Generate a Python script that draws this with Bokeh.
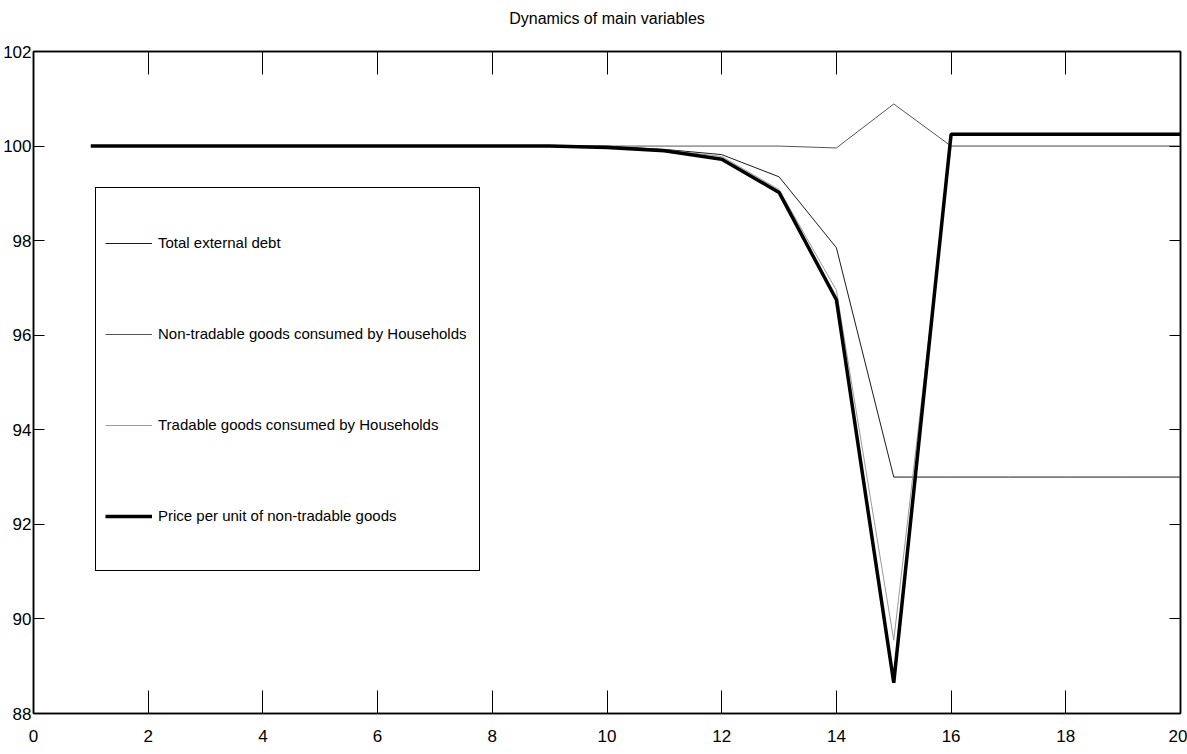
from bokeh.plotting import figure
from bokeh.models import (Range1d, FixedTicker, LinearAxis, Legend, LegendItem)
from bokeh.embed import file_html
from bokeh.resources import INLINE

# ---- data ----
periods = [1, 2, 3, 4, 5, 6, 7, 8, 9, 10, 11, 12, 13, 14, 15, 16, 17, 18, 19, 20]
total_external_debt = [100, 100, 100, 100, 100, 100, 100, 100, 100, 100,
                       99.93, 99.82, 99.35, 97.85, 93.0, 93.0, 93.0, 93.0, 93.0, 93.0]
nontradable_consumption = [100, 100, 100, 100, 100, 100, 100, 100, 100, 100,
                           100, 100, 100, 99.96, 100.89, 100, 100, 100, 100, 100]
tradable_consumption = [100, 100, 100, 100, 100, 100, 100, 100, 100, 99.97,
                        99.92, 99.78, 99.08, 96.95, 89.55, 100, 100, 100, 100, 100]
price_nontradable = [100, 100, 100, 100, 100, 100, 100, 100, 100, 99.97,
                     99.9, 99.72, 99.02, 96.75, 88.65, 100.25, 100.25, 100.25, 100.25, 100.25]
x_ticks = [0, 2, 4, 6, 8, 10, 12, 14, 16, 18, 20]
y_ticks = [88, 90, 92, 94, 96, 98, 100, 102]
title_text = "Dynamics of main variables"
labels = ["Total external debt",
          "Non-tradable goods consumed by Households",
          "Tradable goods consumed by Households",
          "Price per unit of non-tradable goods"]

FONT = "Liberation Sans"

p = figure(width=1187, height=754, output_backend="svg", toolbar_location=None,
           x_range=Range1d(0, 20), y_range=Range1d(88, 102),
           min_border_left=30, min_border_right=7, min_border_top=51, min_border_bottom=41)

p.grid.visible = False
p.outline_line_color = "black"
p.outline_line_width = 1.5
p.background_fill_color = "white"
p.border_fill_color = "white"

def style_axis(ax, ticks, tick_in, show_labels=True):
    ax.ticker = FixedTicker(ticks=ticks)
    ax.major_tick_in = tick_in
    ax.major_tick_out = 0
    ax.minor_tick_line_color = None
    ax.axis_line_color = "black"
    ax.axis_line_width = 1.5
    ax.major_tick_line_color = "black"
    ax.major_tick_line_width = 1
    ax.major_label_text_font = FONT
    ax.major_label_text_color = "black"
    ax.major_label_text_font_size = "17px"
    if show_labels:
        ax.major_label_standoff = 2
    else:
        ax.major_label_overrides = {t: "" for t in ticks}
        ax.major_label_standoff = 0

style_axis(p.xaxis[0], x_ticks, 23)
p.xaxis[0].major_label_standoff = 16
style_axis(p.yaxis[0], y_ticks, 11)

# top axis carries the chart title as its label
top_ax = LinearAxis(axis_label=title_text)
style_axis(top_ax, x_ticks, 23, show_labels=False)
top_ax.axis_label_text_font = FONT
top_ax.axis_label_text_font_size = "16px"
top_ax.axis_label_text_font_style = "normal"
top_ax.axis_label_text_color = "black"
top_ax.axis_label_standoff = 25
p.add_layout(top_ax, "above")

right_ax = LinearAxis()
style_axis(right_ax, y_ticks, 11, show_labels=False)
p.add_layout(right_ax, "right")

r1 = p.line(periods, total_external_debt, line_color="#1a1a1a", line_width=1)
r2 = p.line(periods, nontradable_consumption, line_color="#555555", line_width=1)
r3 = p.line(periods, tradable_consumption, line_color="#9a9a9a", line_width=1)
r4 = p.line(periods, price_nontradable, line_color="black", line_width=3.5)

legend = Legend(items=[LegendItem(label=labels[0], renderers=[r1]),
                       LegendItem(label=labels[1], renderers=[r2]),
                       LegendItem(label=labels[2], renderers=[r3]),
                       LegendItem(label=labels[3], renderers=[r4])],
                location=(62, 142))
legend.label_text_font = FONT
legend.label_text_font_size = "15px"
legend.label_text_color = "black"
legend.glyph_width = 47
legend.label_standoff = 6
legend.padding = 9
legend.spacing = 0
legend.label_height = 91
legend.label_width = 312
legend.border_line_color = "black"
legend.border_line_alpha = 1.0
legend.border_line_width = 1.5
legend.background_fill_alpha = 1.0
legend.margin = 0
p.add_layout(legend)

open("out.html", "w").write(file_html(p, INLINE))
